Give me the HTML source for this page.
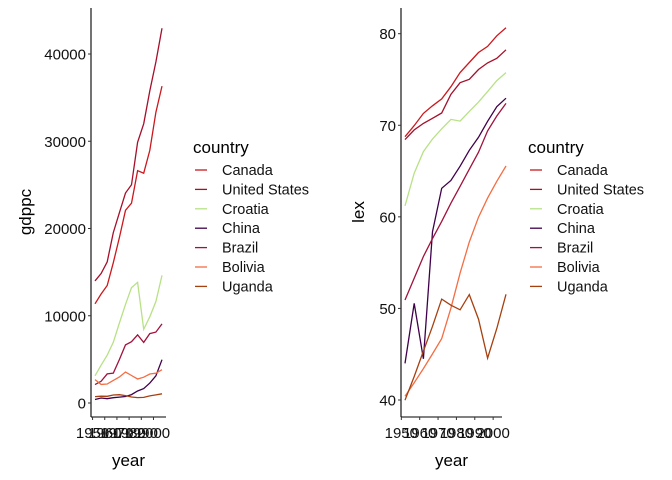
<!DOCTYPE html>
<html><head><meta charset="utf-8"><style>
body{margin:0;background:#fff}
svg{display:block;font-family:"Liberation Sans",Arial,sans-serif}
</style></head><body>
<svg id="c" width="672" height="480"></svg>
<script>
const years=[1952,1957,1962,1967,1972,1977,1982,1987,1992,1997,2002,2007];
const countries=["Canada","United States","Croatia","China","Brazil","Bolivia","Uganda"];
const colors=["#CB181D","#A50F2A","#B8E186","#40004B","#A0123C","#F46D43","#A6400F"];
const gdpCanada=[11367,12490,13462,16077,18971,22091,22899,26627,26343,28955,33329,36319];
const gdpUS=[13990,14847,16173,19530,21806,24073,25010,29884,32004,35767,39097,42952];
const gdpCroatia=[3119,4338,5478,6960,9164,11305,13222,13823,8448,9876,11628,14619];
const gdpChina=[400,576,488,613,677,741,962,1379,1656,2277,3119,4959];
const gdpBrazil=[2109,2487,3337,3430,4986,6660,7031,7807,6950,7958,8131,9066];
const gdpBolivia=[2677,2128,2181,2587,2980,3548,3157,2754,2962,3326,3413,3822];
const gdpUganda=[735,774,767,918,950,844,683,618,644,817,927,1056];
const lexCanada=[68.75,69.96,71.3,72.13,72.88,74.21,75.76,76.86,77.95,78.61,79.77,80.65];
const lexUS=[68.44,69.49,70.21,70.76,71.34,73.38,74.65,75.02,76.09,76.81,77.31,78.24];
const lexCroatia=[61.21,64.77,67.13,68.5,69.61,70.64,70.46,71.52,72.53,73.68,74.88,75.75];
const lexChina=[44,50.55,44.5,58.38,63.12,63.97,65.53,67.27,68.69,70.43,72.03,72.96];
const lexBrazil=[50.92,53.29,55.67,57.63,59.5,61.49,63.34,65.2,67.06,69.39,71.01,72.39];
const lexBolivia=[40.41,41.89,43.43,45.03,46.71,50.02,53.86,57.25,59.96,62.05,63.88,65.55];
const lexUganda=[39.98,42.57,45.34,48.05,51.02,50.35,49.85,51.51,48.83,44.58,47.81,51.54];
const xTicks=[1950,1960,1970,1980,1990,2000];
const gdpTicks=[0,10000,20000,30000,40000];
const lexTicks=[40,50,60,70,80];
const gdpSeries=[gdpCanada,gdpUS,gdpCroatia,gdpChina,gdpBrazil,gdpBolivia,gdpUganda];
const lexSeries=[lexCanada,lexUS,lexCroatia,lexChina,lexBrazil,lexBolivia,lexUganda];

const svg=document.getElementById('c');const NS="http://www.w3.org/2000/svg";
function mk(t,a,txt){const e=document.createElementNS(NS,t);for(const k in a)e.setAttribute(k,a[k]);if(txt!==undefined)e.textContent=txt;svg.appendChild(e);return e;}

function panel(p){
  const sx=v=>p.x0+(v-1952)*(p.x1-p.x0)/55;
  const sy=v=>p.yA+(v-p.vA)*(p.yB-p.yA)/(p.vB-p.vA);
  let e=mk('line',{x1:p.ax,y1:8,x2:p.ax,y2:417,stroke:'#000','stroke-width':1.1});
  
  e=mk('line',{x1:p.ax,y1:417,x2:p.xe,y2:417,stroke:'#000','stroke-width':1.1});
  
  p.yt.forEach(t=>{const y=sy(t);
    mk('line',{x1:p.ax-3,y1:y,x2:p.ax,y2:y,stroke:'#333'});
    e=mk('text',{x:p.ax-5,y:y+5.5,'text-anchor':'end','font-size':15,fill:'#111'},t);
    });
  xTicks.forEach(t=>{const x=sx(t);
    mk('line',{x1:x,y1:417,x2:x,y2:420,stroke:'#333'});
    e=mk('text',{x:x,y:438,'text-anchor':'middle','font-size':15,fill:'#111'},t);
    });
  e=mk('text',{x:(p.ax+p.xe)/2,y:466,'text-anchor':'middle','font-size':17},'year');
  
  e=mk('text',{x:p.tx,y:212,'text-anchor':'middle','font-size':17,transform:`rotate(-90 ${p.tx} 212)`},p.title);
  
  p.s.forEach((arr,i)=>{
    const d=arr.map((v,j)=>(j?'L':'M')+sx(years[j]).toFixed(1)+','+sy(v).toFixed(1)).join('');
    const l=mk('path',{d:d,fill:'none',stroke:colors[i],'stroke-width':1.3});
    
    });
  e=mk('text',{x:p.lx,y:153,'font-size':17},'country');
  
  countries.forEach((c,i)=>{const y=170+i*19.4;
    mk('line',{x1:p.lx+2,y1:y,x2:p.lx+14,y2:y,stroke:colors[i],'stroke-width':1.3});
    const t=mk('text',{x:p.lx+29,y:y+5,'font-size':14.5,fill:'#111'},c);
    });
}
panel({n:'gdp',ax:91,xe:166,x0:95,x1:162,yA:403,vA:0,yB:54,vB:40000,yt:gdpTicks,s:gdpSeries,title:'gdppc',tx:31,lx:193});
panel({n:'lex',ax:401,xe:502,x0:405,x1:506,yA:400,vA:40,yB:33.7,vB:80,yt:lexTicks,s:lexSeries,title:'lex',tx:364,lx:528});
</script>
</body></html>
